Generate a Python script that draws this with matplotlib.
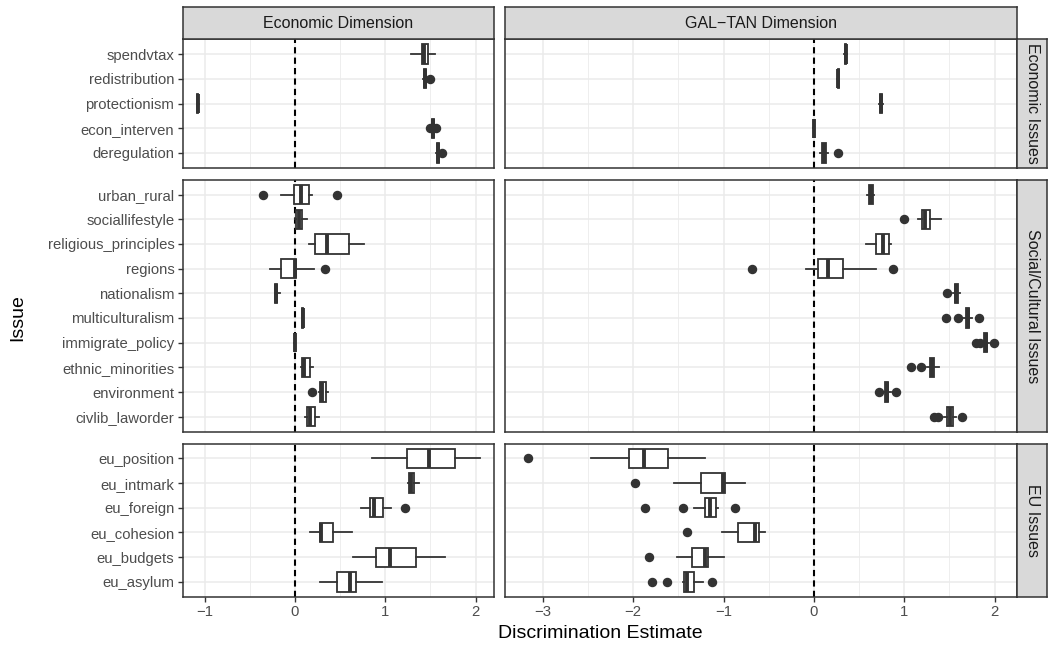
import numpy as np
import matplotlib.pyplot as plt
from matplotlib.ticker import MultipleLocator

plt.rcParams['font.family'] = ['Liberation Sans', 'DejaVu Sans']

# issues in each row of facets, listed bottom -> top as ggplot draws them
econ_issues = ["deregulation", "econ_interven", "protectionism", "redistribution", "spendvtax"]
social_issues = ["civlib_laworder", "environment", "ethnic_minorities", "immigrate_policy",
                 "multiculturalism", "nationalism", "regions", "religious_principles",
                 "sociallifestyle", "urban_rural"]
eu_issues = ["eu_asylum", "eu_budgets", "eu_cohesion", "eu_foreign", "eu_intmark", "eu_position"]

dimensions = ["Economic Dimension", "GAL\u2212TAN Dimension"]
issue_groups = ["Economic Issues", "Social/Cultural Issues", "EU Issues"]

# (whisker low, q1, median, q3, whisker high, outliers), same order as the issue lists
econdim_econ = [
    (1.565, 1.57, 1.58, 1.59, 1.60, [1.625]),
    (1.505, 1.515, 1.525, 1.535, 1.545, [1.49, 1.56]),
    (-1.085, -1.08, -1.075, -1.07, -1.065, []),
    (1.42, 1.43, 1.44, 1.45, 1.46, [1.49]),
    (1.29, 1.41, 1.43, 1.47, 1.55, []),
]
econdim_social = [
    (0.107, 0.137, 0.163, 0.218, 0.266, []),
    (0.266, 0.277, 0.30, 0.34, 0.365, [0.185]),
    (0.063, 0.08, 0.10, 0.166, 0.20, []),
    (-0.005, -0.003, 0.0, 0.003, 0.005, []),
    (0.08, 0.082, 0.085, 0.088, 0.09, []),
    (-0.22, -0.215, -0.21, -0.20, -0.17, []),
    (-0.28, -0.155, 0.0, 0.015, 0.21, [0.33]),
    (0.155, 0.22, 0.35, 0.60, 0.76, []),
    (0.0, 0.01, 0.04, 0.08, 0.13, []),
    (-0.15, -0.01, 0.07, 0.155, 0.19, [-0.35, 0.47]),
]
econdim_eu = [
    (0.273, 0.462, 0.61, 0.68, 0.968, []),
    (0.643, 0.897, 1.05, 1.34, 1.66, []),
    (0.163, 0.273, 0.29, 0.42, 0.635, []),
    (0.73, 0.827, 0.88, 0.98, 1.06, [1.215]),
    (1.25, 1.26, 1.29, 1.32, 1.37, []),
    (0.85, 1.245, 1.485, 1.77, 2.05, []),
]
galtan_econ = [
    (0.07, 0.09, 0.11, 0.13, 0.16, [0.27]),
    (-0.005, -0.003, 0.0, 0.003, 0.005, []),
    (0.72, 0.73, 0.74, 0.75, 0.76, []),
    (0.26, 0.265, 0.27, 0.275, 0.28, []),
    (0.33, 0.345, 0.353, 0.36, 0.37, []),
]
galtan_social = [
    (1.44, 1.475, 1.51, 1.54, 1.57, [1.33, 1.37, 1.64]),
    (0.76, 0.79, 0.805, 0.82, 0.85, [0.72, 0.905]),
    (1.255, 1.29, 1.31, 1.33, 1.38, [1.07, 1.19]),
    (1.86, 1.88, 1.90, 1.92, 1.94, [1.79, 1.835, 1.99]),
    (1.65, 1.68, 1.70, 1.72, 1.75, [1.457, 1.597, 1.825]),
    (1.54, 1.56, 1.575, 1.59, 1.62, [1.475]),
    (-0.09, 0.04, 0.16, 0.317, 0.684, [-0.68, 0.88]),
    (0.574, 0.684, 0.76, 0.835, 0.85, []),
    (1.15, 1.20, 1.225, 1.29, 1.41, [1.0]),
    (0.585, 0.61, 0.63, 0.65, 0.665, []),
]
galtan_eu = [
    (-1.45, -1.44, -1.40, -1.33, -1.23, [-1.79, -1.625, -1.13]),
    (-1.52, -1.35, -1.21, -1.17, -1.0, [-1.82]),
    (-1.02, -0.84, -0.65, -0.61, -0.54, [-1.405]),
    (-1.33, -1.21, -1.155, -1.08, -1.06, [-1.87, -1.45, -0.87]),
    (-1.55, -1.255, -1.01, -0.98, -0.76, [-1.975]),
    (-2.47, -2.05, -1.88, -1.62, -1.20, [-3.16]),
]

row_issues = [econ_issues, social_issues, eu_issues]
panel_data = [[econdim_econ, galtan_econ],
              [econdim_social, galtan_social],
              [econdim_eu, galtan_eu]]

dark = "#333333"
W, H = 1048, 647
fig = plt.figure(figsize=(W / 100, H / 100), dpi=100)


def add_px_axes(x0, y0, x1, y1):
    # pixel box measured from the top-left corner
    return fig.add_axes([x0 / W, 1 - y1 / H, (x1 - x0) / W, (y1 - y0) / H])


# free x scales per column, ggplot style 5% expansion
xlims = []
for c in range(2):
    vals = []
    for r in range(3):
        for s in panel_data[r][c]:
            vals += list(s[:5]) + list(s[5])
    lo, hi = min(vals), max(vals)
    pad = 0.05 * (hi - lo)
    xlims.append((lo - pad, hi + pad))

# free space: panel size follows the data range
left0, right1, hgap = 182.7, 1017, 10.8
top0, bottom1, vgap = 39.3, 596.7, 12
xunits = [b - a for a, b in xlims]
ppu = (right1 - left0 - hgap) / sum(xunits)
col_x = [(left0, left0 + xunits[0] * ppu)]
col_x.append((col_x[0][1] + hgap, right1))
yunits = [len(v) + 0.2 for v in row_issues]
ppv = (bottom1 - top0 - 2 * vgap) / sum(yunits)
row_y = []
y = top0
for u in yunits:
    row_y.append((y, y + u * ppv))
    y += u * ppv + vgap

for r in range(3):
    labels = row_issues[r]
    pos = np.arange(1, len(labels) + 1)
    for c in range(2):
        ax = add_px_axes(col_x[c][0], row_y[r][0], col_x[c][1], row_y[r][1])
        stats = []
        for s in panel_data[r][c]:
            stats.append(dict(whislo=s[0], q1=s[1], med=s[2], q3=s[3], whishi=s[4], fliers=s[5]))
        ax.axvline(0, color="black", linestyle=(0, (3, 2)), linewidth=1.5, zorder=1)
        ax.bxp(stats, positions=pos, widths=0.78, orientation="horizontal",
               patch_artist=True, showcaps=False,
               boxprops=dict(facecolor="white", edgecolor=dark, linewidth=1.3),
               whiskerprops=dict(color=dark, linewidth=1.3),
               medianprops=dict(color=dark, linewidth=2.8),
               flierprops=dict(marker="o", markerfacecolor=dark, markeredgecolor=dark,
                               markersize=5.8),
               zorder=2)
        ax.set_xlim(*xlims[c])
        ax.set_ylim(0.4, len(labels) + 0.6)
        ax.xaxis.set_major_locator(MultipleLocator(1))
        ax.xaxis.set_minor_locator(MultipleLocator(0.5))
        ax.set_yticks(pos)
        ax.set_axisbelow(True)
        ax.grid(which="major", color="#EBEBEB", linewidth=1.1)
        ax.grid(which="minor", axis="x", color="#EBEBEB", linewidth=0.6)
        for sp in ax.spines.values():
            sp.set_color(dark)
            sp.set_linewidth(1.1)
        ax.tick_params(which="minor", length=0)
        ax.tick_params(which="major", color=dark, width=1.0, length=3.5,
                       labelsize=10.7, labelcolor="#4D4D4D", pad=2.5)
        if c == 0:
            ax.set_yticklabels(labels)
        else:
            ax.set_yticklabels([])
            ax.tick_params(axis="y", length=0)
        if r < 2:
            ax.set_xticklabels([])
            ax.tick_params(axis="x", length=0)

# strips
for c in range(2):
    sx = add_px_axes(col_x[c][0], 7.3, col_x[c][1], top0)
    sx.set_facecolor("#D9D9D9")
    sx.set_xticks([])
    sx.set_yticks([])
    for sp in sx.spines.values():
        sp.set_color(dark)
        sp.set_linewidth(1.1)
    sx.text(0.5, 0.5, dimensions[c], ha="center", va="center", fontsize=11.5,
            color="#1A1A1A", transform=sx.transAxes)

for r in range(3):
    sy = add_px_axes(right1, row_y[r][0], right1 + 30, row_y[r][1])
    sy.set_facecolor("#D9D9D9")
    sy.set_xticks([])
    sy.set_yticks([])
    for sp in sy.spines.values():
        sp.set_color(dark)
        sp.set_linewidth(1.1)
    sy.text(0.5, 0.5, issue_groups[r], ha="center", va="center", fontsize=11.5,
            color="#1A1A1A", rotation=-90, transform=sy.transAxes)

fig.text((left0 + right1) / 2 / W, 1 - 633 / H, "Discrimination Estimate",
         ha="center", va="center", fontsize=14)
fig.text(18 / W, 1 - (top0 + bottom1) / 2 / H, "Issue", ha="center", va="center",
         fontsize=14, rotation=90)

fig.savefig("out.png", dpi=100)
